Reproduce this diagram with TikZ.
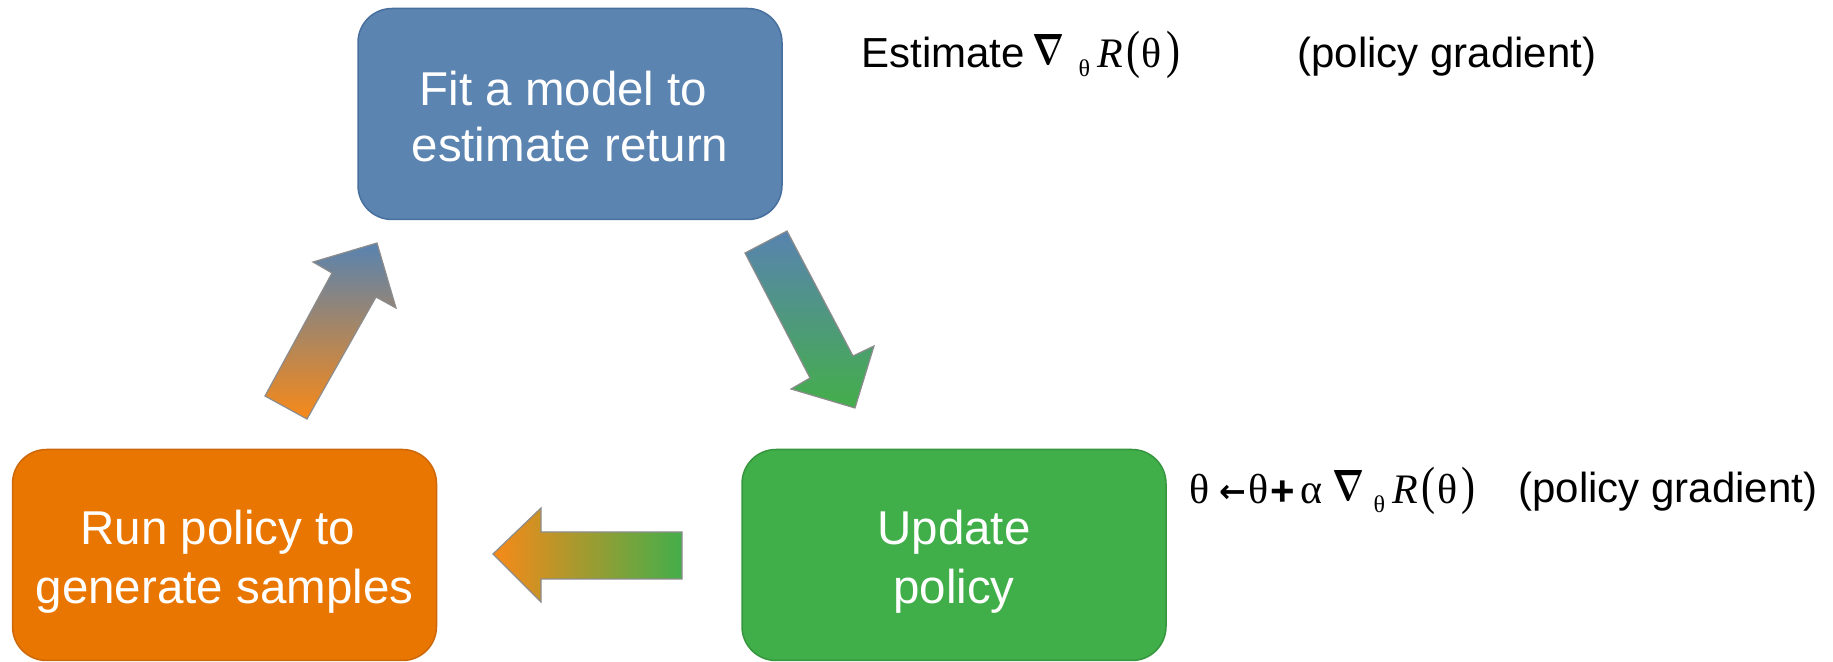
\documentclass[tikz,border=0pt]{standalone}
\usepackage{fontspec}
\usepackage{graphicx}
\setmainfont{Liberation Sans}
\newfontfamily\serifgreek{Liberation Serif}
\newfontfamily\arrowfont{DejaVu Sans}

\definecolor{boxblue}{RGB}{91,132,177}
\definecolor{boxblueedge}{RGB}{72,112,158}
\definecolor{boxorange}{RGB}{233,118,0}
\definecolor{boxorangeedge}{RGB}{205,104,10}
\definecolor{boxgreen}{RGB}{64,174,73}
\definecolor{boxgreenedge}{RGB}{54,150,62}
\definecolor{arrorange}{RGB}{247,137,24}
\definecolor{arrblue}{RGB}{88,131,176}
\definecolor{arrgreen}{RGB}{68,174,74}
\definecolor{arredge}{RGB}{140,140,140}

% invisible strut fixing each line's height and depth inside the stage boxes
\newcommand\lineprop{\rule[-4pt]{0pt}{28pt}}
% formula pieces
\newcommand\bignabla{\raisebox{1.5pt}{\resizebox{16pt}{15pt}{\boldmath$\nabla$}}}
\newcommand\tallparen[1]{\scalebox{1}[1.25]{\serifgreek #1}}
\newcommand\subtheta{\raisebox{-4.5pt}{\serifgreek\fontsize{12pt}{12pt}\selectfont θ}}
\newcommand\sertheta{{\serifgreek θ}}
\newcommand\leftarr{\raisebox{0.5pt}{\arrowfont\bfseries\fontsize{16pt}{16pt}\selectfont ←}}
\newcommand\boldplus{\raisebox{-1pt}{\bfseries +}}
% place a glyph centred at a given offset from the start of the line
\newcommand\glyphat[2]{\rlap{\hspace{#1}\makebox[0pt][c]{#2}}}

\tikzset{
  stage/.style={rectangle, rounded corners=17pt, minimum width=212pt,
    minimum height=105.5pt, inner sep=0pt, align=center, text=white,
    font=\fontsize{23.75pt}{28pt}\selectfont, line width=0.75pt},
  note/.style={anchor=base west, inner sep=0pt,
    font=\fontsize{21pt}{25pt}\selectfont},
  blockarrow/.style={draw=arredge, line width=0.6pt}
}

\begin{document}
\begin{tikzpicture}[x=0.5pt, y=-0.5pt]
\useasboundingbox (0,0) rectangle (1833,662);

% the three stages of the loop
\node[stage, fill=boxblue, draw=boxblueedge] (fit) at (570,114)
  {\lineprop Fit a model to\hspace*{0.278em}\\\lineprop estimate return};
\node[stage, fill=boxgreen, draw=boxgreenedge] (upd) at (954,555)
  {\lineprop Update\\\lineprop policy};
\node[stage, fill=boxorange, draw=boxorangeedge] (run) at (224.5,555)
  {\lineprop Run policy to\hspace*{0.278em}\\\lineprop generate samples};

% block arrows between the stages
\shadedraw[blockarrow, top color=arrblue, bottom color=arrorange]
  (265,396) -- (307,419) -- (376,297) -- (396,308) -- (377,243)
  -- (313,262) -- (332,273) -- cycle;
\shadedraw[blockarrow, top color=arrblue, bottom color=arrgreen]
  (745,253) -- (787,231) -- (853,356) -- (874,346) -- (855,408)
  -- (791,389) -- (810,378) -- cycle;
\shadedraw[blockarrow, left color=arrorange, right color=arrgreen]
  (493,554) -- (541,508) -- (541,532) -- (682,532) -- (682,579)
  -- (541,579) -- (541,602) -- cycle;

% annotations
\node[note] (est) at (860,68)
  {\rlap{Estimate}%
   \glyphat{93.75pt}{\bignabla}%
   \glyphat{111.5pt}{\subtheta}%
   \glyphat{124.25pt}{\serifgreek\itshape R}%
   \glyphat{136pt}{\tallparen{(}}%
   \glyphat{145pt}{\sertheta}%
   \glyphat{156.25pt}{\tallparen{)}}%
   \hspace{160pt}};
\node[note] (pg1) at (1297,68) {(policy gradient)};

\node[note] (rule) at (1188,504)
  {\glyphat{5pt}{\sertheta}%
   \glyphat{21.5pt}{\leftarr}%
   \glyphat{34.5pt}{\sertheta}%
   \glyphat{46.75pt}{\boldplus}%
   \glyphat{61pt}{\serifgreek α}%
   \glyphat{79.75pt}{\bignabla}%
   \glyphat{95pt}{\subtheta}%
   \glyphat{107.75pt}{\serifgreek\itshape R}%
   \glyphat{119.75pt}{\tallparen{(}}%
   \glyphat{129pt}{\sertheta}%
   \glyphat{139.5pt}{\tallparen{)}}%
   \hspace{143pt}};
\node[note] (pg2) at (1518,503) {(policy gradient)};
\end{tikzpicture}
\end{document}
